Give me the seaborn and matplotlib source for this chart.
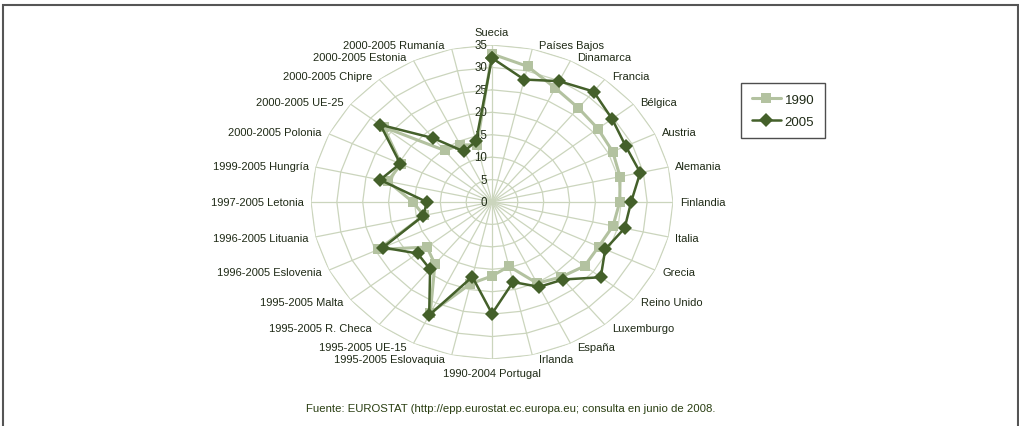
import numpy as np
import pandas as pd
import seaborn as sns
import matplotlib.pyplot as plt
from matplotlib.patches import Rectangle

# Data
categorias = ['Suecia', 'Países Bajos', 'Dinamarca', 'Francia', 'Bélgica', 'Austria',
              'Alemania', 'Finlandia', 'Italia', 'Grecia', 'Reino Unido', 'Luxemburgo',
              'España', 'Irlanda', '1990-2004 Portugal', '1995-2005 Eslovaquia',
              '1995-2005 UE-15', '1995-2005 R. Checa', '1995-2005 Malta',
              '1996-2005 Eslovenia', '1996-2005 Lituania', '1997-2005 Letonia',
              '1999-2005 Hungría', '2000-2005 Polonia', '2000-2005 UE-25',
              '2000-2005 Chipre', '2000-2005 Estonia', '2000-2005 Rumanía']
valores_1990 = [33.0, 31.0, 28.2, 26.8, 26.2, 25.9, 25.4, 24.7, 24.0, 22.9, 22.9, 21.4,
                20.1, 14.7, 16.5, 18.7, 27.5, 17.7, 16.1, 24.4, 13.5, 15.3, 20.7, 19.5,
                26.8, 14.7, 14.1, 13.1]
valores_2005 = [32.1, 28.0, 29.9, 31.5, 29.7, 28.7, 29.4, 26.9, 26.3, 24.3, 26.9, 22.1,
                21.0, 18.3, 24.9, 17.1, 28.0, 19.2, 18.4, 23.4, 13.6, 12.6, 22.2, 19.7,
                27.6, 18.2, 12.5, 13.9]
ticks_r = [0, 5, 10, 15, 20, 25, 30, 35]
fuente = 'Fuente: EUROSTAT (http://epp.eurostat.ec.europa.eu; consulta en junio de 2008.'

sns.set_style('white')
plt.rcParams['font.family'] = ['Liberation Sans', 'DejaVu Sans']

c1990 = '#b3c2a0'
c2005 = '#44602a'
cgrid = '#cbd5bd'
ctext = '#1f2a16'

n = len(categorias)
ang = np.linspace(0, 2 * np.pi, n, endpoint=False)
ang_c = np.append(ang, 2 * np.pi)

df = pd.concat([
    pd.DataFrame({'theta': ang_c, 'valor': valores_1990 + valores_1990[:1], 'año': '1990'}),
    pd.DataFrame({'theta': ang_c, 'valor': valores_2005 + valores_2005[:1], 'año': '2005'}),
])

fig = plt.figure(figsize=(10.2, 4.27), dpi=100)
ax = fig.add_axes([311 / 1020, 67 / 427, 362 / 1020, 314 / 427], projection='polar')
ax.set_aspect('auto')
ax.set_theta_zero_location('N')
ax.set_theta_direction(-1)
ax.set_ylim(0, 35)

# polygon grid like Excel radar
for r in ticks_r[1:]:
    ax.plot(ang_c, [r] * len(ang_c), color=cgrid, lw=0.9, zorder=0)
ax.set_xticks(ang)
ax.set_xticklabels([])
ax.xaxis.grid(True, color=cgrid, lw=0.9)
ax.yaxis.grid(False)
ax.set_yticks([])
ax.spines['polar'].set_visible(False)

sns.lineplot(data=df[df['año'] == '1990'], x='theta', y='valor', sort=False,
             color=c1990, lw=2.2, marker='s', markersize=7, markeredgewidth=0,
             label='1990', ax=ax, zorder=3)
sns.lineplot(data=df[df['año'] == '2005'], x='theta', y='valor', sort=False,
             color=c2005, lw=1.8, marker='D', markersize=7, markeredgewidth=0,
             label='2005', ax=ax, zorder=4)
ax.set_xlabel('')
ax.set_ylabel('')
handles, labels = ax.get_legend_handles_labels()
ax.get_legend().remove()

# radial tick numbers along the top spoke
for v in ticks_r:
    ax.annotate(str(v), xy=(0, v), xytext=(-5, 0), textcoords='offset pixels',
                ha='right', va='center', fontsize=8.3, color=ctext)

# category labels
for a, lab in zip(ang, categorias):
    s, c = np.sin(a), np.cos(a)
    if abs(s) < 0.05:
        ha = 'center'
        off = (0, 13 if c > 0 else -14)
    else:
        ha = 'left' if s > 0 else 'right'
        off = (7 * np.sign(s), 4 * c)
    ax.annotate(lab, xy=(a, 35), xytext=off, textcoords='offset pixels',
                ha=ha, va='center', fontsize=8, color=ctext, annotation_clip=False)

leg = fig.legend(handles, labels, loc='upper left', bbox_to_anchor=(741 / 1020, 1 - 84 / 427),
                 borderaxespad=0, fontsize=9.5, frameon=True, fancybox=False,
                 edgecolor='#222222', handlelength=2.2, borderpad=0.8, labelspacing=0.75,
                 handletextpad=0.3)
leg.get_frame().set_linewidth(1.0)
for t in leg.get_texts():
    t.set_color(ctext)

fig.text(511 / 1020, 1 - 409 / 427, fuente, ha='center', va='center', fontsize=8.2,
         color='#2a3f12')

fig.patches.append(Rectangle((3 / 1020, -0.05), 1015 / 1020, 1.05 - 6 / 427,
                             transform=fig.transFigure, fill=False,
                             edgecolor='#555555', lw=1.5))

fig.savefig('out.png', dpi=100)
